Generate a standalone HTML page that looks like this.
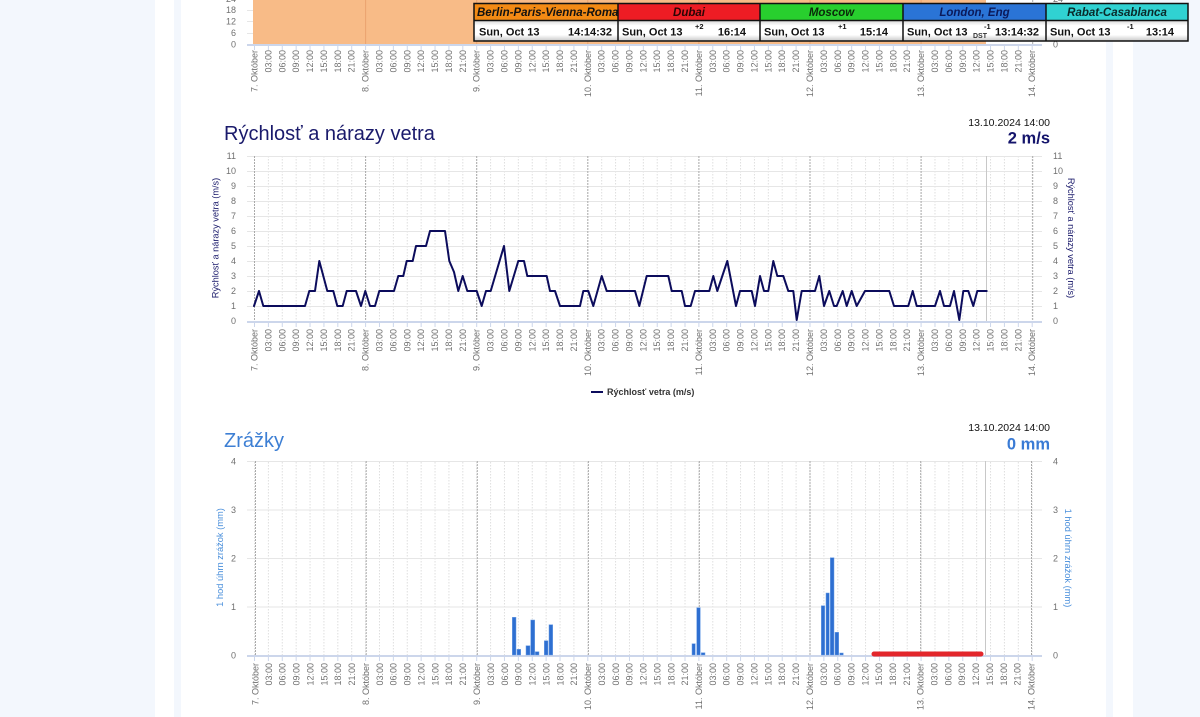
<!DOCTYPE html>
<html><head><meta charset="utf-8">
<style>
html,body{margin:0;padding:0;}
body{width:1200px;height:717px;background:#f3f7fd;position:relative;overflow:hidden;font-family:"Liberation Sans",Arial,sans-serif;}
svg{position:absolute;left:0;top:0;}
.xl{font-size:9px;fill:#707070;text-anchor:end;}
.yl{font-size:9px;fill:#707070;}
.hd{font-size:11.5px;font-weight:bold;font-style:italic;}
.dt{font-size:11px;font-weight:bold;fill:#111;}
.sup{font-size:7.5px;font-weight:bold;fill:#111;}
</style></head>
<body>
<svg width="1200" height="717" viewBox="0 0 1200 717" xmlns="http://www.w3.org/2000/svg">
<defs>
<pattern id="vg" x="254" y="0" width="13.8875" height="3" patternUnits="userSpaceOnUse"><rect x="0" y="0" width="1" height="1.5" fill="#dedede"/></pattern>
<pattern id="tk" x="254" y="0" width="13.8875" height="10" patternUnits="userSpaceOnUse"><rect x="0" y="0" width="1" height="10" fill="#ccd6eb"/></pattern>
<linearGradient id="rowg" x1="0" y1="0" x2="0" y2="1">
<stop offset="0" stop-color="#d8d8d8"/><stop offset="0.25" stop-color="#ffffff"/><stop offset="0.7" stop-color="#ffffff"/><stop offset="1" stop-color="#c8c8c8"/>
</linearGradient>
</defs>

<!-- page panels -->
<rect x="155" y="0" width="978" height="717" fill="#ffffff"/>
<rect x="174" y="0" width="7" height="717" fill="#f3f7fd"/>
<rect x="1106" y="0" width="7" height="717" fill="#f3f7fd"/>

<!-- ============ TOP CHART (partial) ============ -->
<g stroke="#e6e6e6" stroke-width="1">
<line x1="247" y1="10.5" x2="1042" y2="10.5"/>
<line x1="247" y1="21.5" x2="1042" y2="21.5"/>
<line x1="247" y1="33.5" x2="1042" y2="33.5"/>
</g>
<rect x="253" y="0" width="733" height="44" fill="#f8bb87"/>
<g stroke="#eaa36f" stroke-width="1">
<line x1="365.6" y1="0" x2="365.6" y2="44"/>
<line x1="476.7" y1="0" x2="476.7" y2="44"/>
<line x1="587.8" y1="0" x2="587.8" y2="44"/>
<line x1="698.9" y1="0" x2="698.9" y2="44"/>
<line x1="810" y1="0" x2="810" y2="44"/>
<line x1="921.1" y1="0" x2="921.1" y2="44"/>
</g>
<line x1="1032.7" y1="0" x2="1032.7" y2="44" stroke="#aaa" stroke-dasharray="2,1"/>
<line x1="247" y1="45" x2="1042" y2="45" stroke="#ccd6eb" stroke-width="2"/>
<rect x="254" y="45" width="780" height="5" fill="url(#tk)"/>
<g class="yl" text-anchor="end">
<text x="236" y="2">24</text><text x="236" y="13.2">18</text><text x="236" y="24.6">12</text><text x="236" y="36">6</text><text x="236" y="47.4">0</text>
</g>
<g class="yl"><text x="1053" y="2">24</text><text x="1053" y="47.4">0</text></g>

<g class="xl" transform="translate(3,50)">
<text transform="translate(254.5)rotate(-90)">7. Október</text><text transform="translate(268.4)rotate(-90)">03:00</text><text transform="translate(282.3)rotate(-90)">06:00</text><text transform="translate(296.2)rotate(-90)">09:00</text><text transform="translate(310.1)rotate(-90)">12:00</text><text transform="translate(323.9)rotate(-90)">15:00</text><text transform="translate(337.8)rotate(-90)">18:00</text><text transform="translate(351.7)rotate(-90)">21:00</text>
<text transform="translate(365.6)rotate(-90)">8. Október</text><text transform="translate(379.5)rotate(-90)">03:00</text><text transform="translate(393.4)rotate(-90)">06:00</text><text transform="translate(407.3)rotate(-90)">09:00</text><text transform="translate(421.2)rotate(-90)">12:00</text><text transform="translate(435)rotate(-90)">15:00</text><text transform="translate(448.9)rotate(-90)">18:00</text><text transform="translate(462.8)rotate(-90)">21:00</text>
<text transform="translate(476.7)rotate(-90)">9. Október</text><text transform="translate(490.6)rotate(-90)">03:00</text><text transform="translate(504.5)rotate(-90)">06:00</text><text transform="translate(518.4)rotate(-90)">09:00</text><text transform="translate(532.3)rotate(-90)">12:00</text><text transform="translate(546.1)rotate(-90)">15:00</text><text transform="translate(560)rotate(-90)">18:00</text><text transform="translate(573.9)rotate(-90)">21:00</text>
<text transform="translate(587.8)rotate(-90)">10. Október</text><text transform="translate(601.7)rotate(-90)">03:00</text><text transform="translate(615.6)rotate(-90)">06:00</text><text transform="translate(629.5)rotate(-90)">09:00</text><text transform="translate(643.4)rotate(-90)">12:00</text><text transform="translate(657.2)rotate(-90)">15:00</text><text transform="translate(671.1)rotate(-90)">18:00</text><text transform="translate(685)rotate(-90)">21:00</text>
<text transform="translate(698.9)rotate(-90)">11. Október</text><text transform="translate(712.8)rotate(-90)">03:00</text><text transform="translate(726.7)rotate(-90)">06:00</text><text transform="translate(740.6)rotate(-90)">09:00</text><text transform="translate(754.5)rotate(-90)">12:00</text><text transform="translate(768.3)rotate(-90)">15:00</text><text transform="translate(782.2)rotate(-90)">18:00</text><text transform="translate(796.1)rotate(-90)">21:00</text>
<text transform="translate(810)rotate(-90)">12. Október</text><text transform="translate(823.9)rotate(-90)">03:00</text><text transform="translate(837.8)rotate(-90)">06:00</text><text transform="translate(851.7)rotate(-90)">09:00</text><text transform="translate(865.6)rotate(-90)">12:00</text><text transform="translate(879.4)rotate(-90)">15:00</text><text transform="translate(893.3)rotate(-90)">18:00</text><text transform="translate(907.2)rotate(-90)">21:00</text>
<text transform="translate(921.1)rotate(-90)">13. Október</text><text transform="translate(935)rotate(-90)">03:00</text><text transform="translate(948.9)rotate(-90)">06:00</text><text transform="translate(962.8)rotate(-90)">09:00</text><text transform="translate(976.7)rotate(-90)">12:00</text><text transform="translate(990.5)rotate(-90)">15:00</text><text transform="translate(1004.4)rotate(-90)">18:00</text><text transform="translate(1018.3)rotate(-90)">21:00</text>
<text transform="translate(1032.2)rotate(-90)">14. Október</text>
</g>

<!-- clock boxes -->
<g>
<rect x="474" y="3.5" width="144" height="17" fill="#f38a14"/>
<rect x="618" y="3.5" width="142" height="17" fill="#ee1c24"/>
<rect x="760" y="3.5" width="143" height="17" fill="#28cf2e"/>
<rect x="903" y="3.5" width="143" height="17" fill="#2a74d6"/>
<rect x="1046" y="3.5" width="142" height="17" fill="#30d2d2"/>
<rect x="474" y="20.5" width="714" height="20.5" fill="url(#rowg)"/>
<g fill="none" stroke="#111" stroke-width="1.5">
<rect x="474" y="3.5" width="714" height="37.5"/>
<line x1="474" y1="20.5" x2="1188" y2="20.5"/>
<line x1="618" y1="3.5" x2="618" y2="41"/>
<line x1="760" y1="3.5" x2="760" y2="41"/>
<line x1="903" y1="3.5" x2="903" y2="41"/>
<line x1="1046" y1="3.5" x2="1046" y2="41"/>
</g>
<text class="hd" x="477" y="16" fill="#111">Berlin-Paris-Vienna-Roma</text>
<text class="hd" x="689" y="16" fill="#2a0505" text-anchor="middle">Dubai</text>
<text class="hd" x="831.5" y="16" fill="#0a2a0a" text-anchor="middle">Moscow</text>
<text class="hd" x="974.5" y="16" fill="#0b1a5a" text-anchor="middle">London, Eng</text>
<text class="hd" x="1117" y="16" fill="#0a2a2a" text-anchor="middle">Rabat-Casablanca</text>

<text class="dt" x="479" y="35.5">Sun, Oct 13</text><text class="dt" x="612" y="35.5" text-anchor="end">14:14:32</text>
<text class="dt" x="622" y="35.5">Sun, Oct 13</text><text class="sup" x="695" y="29">+2</text><text class="dt" x="746" y="35.5" text-anchor="end">16:14</text>
<text class="dt" x="764" y="35.5">Sun, Oct 13</text><text class="sup" x="838" y="29">+1</text><text class="dt" x="888" y="35.5" text-anchor="end">15:14</text>
<text class="dt" x="907" y="35.5">Sun, Oct 13</text><text x="973" y="38" font-size="7" font-weight="bold" fill="#333">DST</text><text class="sup" x="984" y="29">-1</text><text class="dt" x="1039" y="35.5" text-anchor="end">13:14:32</text>
<text class="dt" x="1050" y="35.5">Sun, Oct 13</text><text class="sup" x="1127" y="29">-1</text><text class="dt" x="1174" y="35.5" text-anchor="end">13:14</text>
</g>

<!-- ============ WIND CHART ============ -->
<text x="224" y="140" font-size="20" fill="#1a1a6b">Rýchlosť a nárazy vetra</text>
<text x="1050" y="126" font-size="10.5" fill="#111" text-anchor="end">13.10.2024 14:00</text>
<text x="1050" y="143.5" font-size="16.5" font-weight="bold" fill="#14146b" text-anchor="end">2 m/s</text>

<rect x="254" y="156" width="780" height="165" fill="url(#vg)"/>
<g stroke="#e6e6e6" stroke-width="1">
<line x1="247" y1="156.5" x2="1042" y2="156.5"/><line x1="247" y1="171.5" x2="1042" y2="171.5"/><line x1="247" y1="186.5" x2="1042" y2="186.5"/><line x1="247" y1="201.5" x2="1042" y2="201.5"/><line x1="247" y1="216.5" x2="1042" y2="216.5"/><line x1="247" y1="231.5" x2="1042" y2="231.5"/><line x1="247" y1="246.5" x2="1042" y2="246.5"/><line x1="247" y1="261.5" x2="1042" y2="261.5"/><line x1="247" y1="276.5" x2="1042" y2="276.5"/><line x1="247" y1="291.5" x2="1042" y2="291.5"/><line x1="247" y1="306.5" x2="1042" y2="306.5"/>
</g>
<g stroke="#aaa" stroke-width="1" stroke-dasharray="2,1">
<line x1="254.5" y1="156" x2="254.5" y2="321"/><line x1="365.6" y1="156" x2="365.6" y2="321"/><line x1="476.7" y1="156" x2="476.7" y2="321"/><line x1="587.8" y1="156" x2="587.8" y2="321"/><line x1="698.9" y1="156" x2="698.9" y2="321"/><line x1="810" y1="156" x2="810" y2="321"/><line x1="921.1" y1="156" x2="921.1" y2="321"/><line x1="1032.7" y1="156" x2="1032.7" y2="321"/>
</g>
<line x1="986.5" y1="156" x2="986.5" y2="321" stroke="#c8c8c8"/>
<line x1="247" y1="322" x2="1042" y2="322" stroke="#ccd6eb" stroke-width="2"/>
<rect x="254" y="322" width="780" height="5" fill="url(#tk)"/>

<g class="yl" text-anchor="end">
<text x="236" y="159">11</text><text x="236" y="174">10</text><text x="236" y="189">9</text><text x="236" y="204">8</text><text x="236" y="219">7</text><text x="236" y="234">6</text><text x="236" y="249">5</text><text x="236" y="264">4</text><text x="236" y="279">3</text><text x="236" y="294">2</text><text x="236" y="309">1</text><text x="236" y="324">0</text>
</g>
<g class="yl">
<text x="1053" y="159">11</text><text x="1053" y="174">10</text><text x="1053" y="189">9</text><text x="1053" y="204">8</text><text x="1053" y="219">7</text><text x="1053" y="234">6</text><text x="1053" y="249">5</text><text x="1053" y="264">4</text><text x="1053" y="279">3</text><text x="1053" y="294">2</text><text x="1053" y="309">1</text><text x="1053" y="324">0</text>
</g>
<text transform="translate(218.5,238)rotate(-90)" font-size="9.2" fill="#1a1a6b" text-anchor="middle">Rýchlosť a nárazy vetra (m/s)</text>
<text transform="translate(1068,238)rotate(90)" font-size="9.2" fill="#1a1a6b" text-anchor="middle">Rýchlosť a nárazy vetra (m/s)</text>

<polyline fill="none" stroke="#0c0c5c" stroke-width="2" stroke-linejoin="round" stroke-linecap="round" points="254,306 259,291 263.3,306 305,306 309.3,291 315,291 319.3,261 327.3,291 333.3,291 337.3,306 342.7,306 346.7,291 356,291 361,306 365.3,291 370,306 375,306 379.3,291 394,291 398.3,276 403.3,276 406.7,261 412.7,261 416,246 426,246 430,231 445,231 449.3,261 454,272 458.3,291 462.7,276 467.3,291 476.7,291 481.7,306 486,291 490.7,291 504,246 509.3,291 518.3,261 524,261 527.3,276 546.7,276 550,291 555,291 560,306 580,306 583.3,291 588.3,291 593.3,306 601.7,276 606.7,291 635,291 639.3,306 646.7,276 668.3,276 671.7,291 681.7,291 685,306 690.7,306 695,291 709.3,291 713.3,276 717.3,291 727.3,261 736,306 740,291 751.7,291 755,306 760,276 764,291 768.3,291 773.3,261 777.3,276 783.3,276 788.3,291 793.3,291 796.7,320 801.7,291 815,291 819.3,276 824,306 829.3,291 834,306 836.7,306 842.7,291 846.7,306 851.7,291 856.7,306 865,291 889.3,291 894,306 908.3,306 912.7,291 916.7,306 935,306 940,291 944,306 950,306 954,291 959.3,320 963.3,291 968.3,291 973.3,306 977.3,291 986.7,291"/>

<g class="xl" transform="translate(3,329)">
<text transform="translate(254.5)rotate(-90)">7. Október</text><text transform="translate(268.4)rotate(-90)">03:00</text><text transform="translate(282.3)rotate(-90)">06:00</text><text transform="translate(296.2)rotate(-90)">09:00</text><text transform="translate(310.1)rotate(-90)">12:00</text><text transform="translate(323.9)rotate(-90)">15:00</text><text transform="translate(337.8)rotate(-90)">18:00</text><text transform="translate(351.7)rotate(-90)">21:00</text>
<text transform="translate(365.6)rotate(-90)">8. Október</text><text transform="translate(379.5)rotate(-90)">03:00</text><text transform="translate(393.4)rotate(-90)">06:00</text><text transform="translate(407.3)rotate(-90)">09:00</text><text transform="translate(421.2)rotate(-90)">12:00</text><text transform="translate(435)rotate(-90)">15:00</text><text transform="translate(448.9)rotate(-90)">18:00</text><text transform="translate(462.8)rotate(-90)">21:00</text>
<text transform="translate(476.7)rotate(-90)">9. Október</text><text transform="translate(490.6)rotate(-90)">03:00</text><text transform="translate(504.5)rotate(-90)">06:00</text><text transform="translate(518.4)rotate(-90)">09:00</text><text transform="translate(532.3)rotate(-90)">12:00</text><text transform="translate(546.1)rotate(-90)">15:00</text><text transform="translate(560)rotate(-90)">18:00</text><text transform="translate(573.9)rotate(-90)">21:00</text>
<text transform="translate(587.8)rotate(-90)">10. Október</text><text transform="translate(601.7)rotate(-90)">03:00</text><text transform="translate(615.6)rotate(-90)">06:00</text><text transform="translate(629.5)rotate(-90)">09:00</text><text transform="translate(643.4)rotate(-90)">12:00</text><text transform="translate(657.2)rotate(-90)">15:00</text><text transform="translate(671.1)rotate(-90)">18:00</text><text transform="translate(685)rotate(-90)">21:00</text>
<text transform="translate(698.9)rotate(-90)">11. Október</text><text transform="translate(712.8)rotate(-90)">03:00</text><text transform="translate(726.7)rotate(-90)">06:00</text><text transform="translate(740.6)rotate(-90)">09:00</text><text transform="translate(754.5)rotate(-90)">12:00</text><text transform="translate(768.3)rotate(-90)">15:00</text><text transform="translate(782.2)rotate(-90)">18:00</text><text transform="translate(796.1)rotate(-90)">21:00</text>
<text transform="translate(810)rotate(-90)">12. Október</text><text transform="translate(823.9)rotate(-90)">03:00</text><text transform="translate(837.8)rotate(-90)">06:00</text><text transform="translate(851.7)rotate(-90)">09:00</text><text transform="translate(865.6)rotate(-90)">12:00</text><text transform="translate(879.4)rotate(-90)">15:00</text><text transform="translate(893.3)rotate(-90)">18:00</text><text transform="translate(907.2)rotate(-90)">21:00</text>
<text transform="translate(921.1)rotate(-90)">13. Október</text><text transform="translate(935)rotate(-90)">03:00</text><text transform="translate(948.9)rotate(-90)">06:00</text><text transform="translate(962.8)rotate(-90)">09:00</text><text transform="translate(976.7)rotate(-90)">12:00</text><text transform="translate(990.5)rotate(-90)">15:00</text><text transform="translate(1004.4)rotate(-90)">18:00</text><text transform="translate(1018.3)rotate(-90)">21:00</text>
<text transform="translate(1032.2)rotate(-90)">14. Október</text>
</g>

<!-- legend -->
<line x1="591" y1="392" x2="603" y2="392" stroke="#0c0c5c" stroke-width="2"/>
<text x="607" y="395" font-size="9" font-weight="bold" fill="#333">Rýchlosť vetra (m/s)</text>

<!-- ============ PRECIP CHART ============ -->
<text x="224" y="447" font-size="20" fill="#3d7fd4">Zrážky</text>
<text x="1050" y="431" font-size="10.5" fill="#111" text-anchor="end">13.10.2024 14:00</text>
<text x="1050" y="449.5" font-size="16.5" font-weight="bold" fill="#3a7bd5" text-anchor="end">0 mm</text>

<rect x="254" y="461" width="780" height="194" fill="url(#vg)"/>
<g stroke="#e6e6e6" stroke-width="1">
<line x1="247" y1="461.5" x2="1042" y2="461.5"/><line x1="247" y1="510" x2="1042" y2="510"/><line x1="247" y1="558.5" x2="1042" y2="558.5"/><line x1="247" y1="607" x2="1042" y2="607"/>
</g>
<g stroke="#aaa" stroke-width="1" stroke-dasharray="2,1">
<line x1="255.5" y1="461" x2="255.5" y2="655"/><line x1="366.2" y1="461" x2="366.2" y2="655"/><line x1="477.3" y1="461" x2="477.3" y2="655"/><line x1="588.4" y1="461" x2="588.4" y2="655"/><line x1="699.3" y1="461" x2="699.3" y2="655"/><line x1="810" y1="461" x2="810" y2="655"/><line x1="920.7" y1="461" x2="920.7" y2="655"/><line x1="1031.5" y1="461" x2="1031.5" y2="655"/>
</g>
<line x1="985.5" y1="461" x2="985.5" y2="655" stroke="#c8c8c8"/>
<line x1="247" y1="656" x2="1042" y2="656" stroke="#ccd6eb" stroke-width="2"/>
<rect x="254" y="656" width="780" height="5" fill="url(#tk)"/>

<g fill="#2e6fd1" stroke="#6fa0e6" stroke-width="0.5">
<rect x="512.3" y="617.3" width="3.7" height="37.7"/>
<rect x="517" y="649.3" width="3.7" height="5.7"/>
<rect x="526" y="645.7" width="4" height="9.3"/>
<rect x="530.7" y="620" width="4" height="35"/>
<rect x="535.3" y="651.7" width="3.7" height="3.3"/>
<rect x="544.3" y="640.7" width="3.7" height="14.3"/>
<rect x="549" y="624.7" width="3.7" height="30.3"/>
<rect x="692" y="643.7" width="3.3" height="11.3"/>
<rect x="696.7" y="607.7" width="3.6" height="47.3"/>
<rect x="701.3" y="652.7" width="3.7" height="2.3"/>
<rect x="821.3" y="605.7" width="3.4" height="49.3"/>
<rect x="826" y="593" width="3.3" height="62"/>
<rect x="830.3" y="557.7" width="3.7" height="97.3"/>
<rect x="835" y="632.3" width="3.7" height="22.7"/>
<rect x="839.7" y="653" width="3.6" height="2"/>
</g>
<line x1="874" y1="654" x2="981" y2="654" stroke="#e3262b" stroke-width="5" stroke-linecap="round"/>

<g class="yl" text-anchor="end">
<text x="236" y="464.5">4</text><text x="236" y="513">3</text><text x="236" y="561.5">2</text><text x="236" y="610">1</text><text x="236" y="658.5">0</text>
</g>
<g class="yl">
<text x="1053" y="464.5">4</text><text x="1053" y="513">3</text><text x="1053" y="561.5">2</text><text x="1053" y="610">1</text><text x="1053" y="658.5">0</text>
</g>
<text transform="translate(223,557.5)rotate(-90)" font-size="9.3" fill="#4a8fdb" text-anchor="middle">1 hod úhrn zrážok (mm)</text>
<text transform="translate(1065,558)rotate(90)" font-size="9.3" fill="#4a8fdb" text-anchor="middle">1 hod úhrn zrážok (mm)</text>

<g class="xl" transform="translate(3,663)">
<text transform="translate(255.5)rotate(-90)">7. Október</text><text transform="translate(268.9)rotate(-90)">03:00</text><text transform="translate(282.7)rotate(-90)">06:00</text><text transform="translate(296.6)rotate(-90)">09:00</text><text transform="translate(310.4)rotate(-90)">12:00</text><text transform="translate(324.3)rotate(-90)">15:00</text><text transform="translate(338.1)rotate(-90)">18:00</text><text transform="translate(352)rotate(-90)">21:00</text>
<text transform="translate(366)rotate(-90)">8. Október</text><text transform="translate(379.8)rotate(-90)">03:00</text><text transform="translate(393.7)rotate(-90)">06:00</text><text transform="translate(407.6)rotate(-90)">09:00</text><text transform="translate(421.5)rotate(-90)">12:00</text><text transform="translate(435.3)rotate(-90)">15:00</text><text transform="translate(449.2)rotate(-90)">18:00</text><text transform="translate(463.1)rotate(-90)">21:00</text>
<text transform="translate(477)rotate(-90)">9. Október</text><text transform="translate(490.9)rotate(-90)">03:00</text><text transform="translate(504.8)rotate(-90)">06:00</text><text transform="translate(518.7)rotate(-90)">09:00</text><text transform="translate(532.5)rotate(-90)">12:00</text><text transform="translate(546.4)rotate(-90)">15:00</text><text transform="translate(560.3)rotate(-90)">18:00</text><text transform="translate(574.1)rotate(-90)">21:00</text>
<text transform="translate(588)rotate(-90)">10. Október</text><text transform="translate(601.9)rotate(-90)">03:00</text><text transform="translate(615.8)rotate(-90)">06:00</text><text transform="translate(629.7)rotate(-90)">09:00</text><text transform="translate(643.5)rotate(-90)">12:00</text><text transform="translate(657.4)rotate(-90)">15:00</text><text transform="translate(671.3)rotate(-90)">18:00</text><text transform="translate(685.1)rotate(-90)">21:00</text>
<text transform="translate(699)rotate(-90)">11. Október</text><text transform="translate(712.9)rotate(-90)">03:00</text><text transform="translate(726.7)rotate(-90)">06:00</text><text transform="translate(740.6)rotate(-90)">09:00</text><text transform="translate(754.5)rotate(-90)">12:00</text><text transform="translate(768.3)rotate(-90)">15:00</text><text transform="translate(782.2)rotate(-90)">18:00</text><text transform="translate(796.1)rotate(-90)">21:00</text>
<text transform="translate(810)rotate(-90)">12. Október</text><text transform="translate(823.8)rotate(-90)">03:00</text><text transform="translate(837.7)rotate(-90)">06:00</text><text transform="translate(851.5)rotate(-90)">09:00</text><text transform="translate(865.4)rotate(-90)">12:00</text><text transform="translate(879.2)rotate(-90)">15:00</text><text transform="translate(893)rotate(-90)">18:00</text><text transform="translate(906.9)rotate(-90)">21:00</text>
<text transform="translate(920.7)rotate(-90)">13. Október</text><text transform="translate(934.6)rotate(-90)">03:00</text><text transform="translate(948.4)rotate(-90)">06:00</text><text transform="translate(962.2)rotate(-90)">09:00</text><text transform="translate(976.1)rotate(-90)">12:00</text><text transform="translate(989.9)rotate(-90)">15:00</text><text transform="translate(1003.8)rotate(-90)">18:00</text><text transform="translate(1017.6)rotate(-90)">21:00</text>
<text transform="translate(1031.5)rotate(-90)">14. Október</text>
</g>
</svg>
</body></html>
